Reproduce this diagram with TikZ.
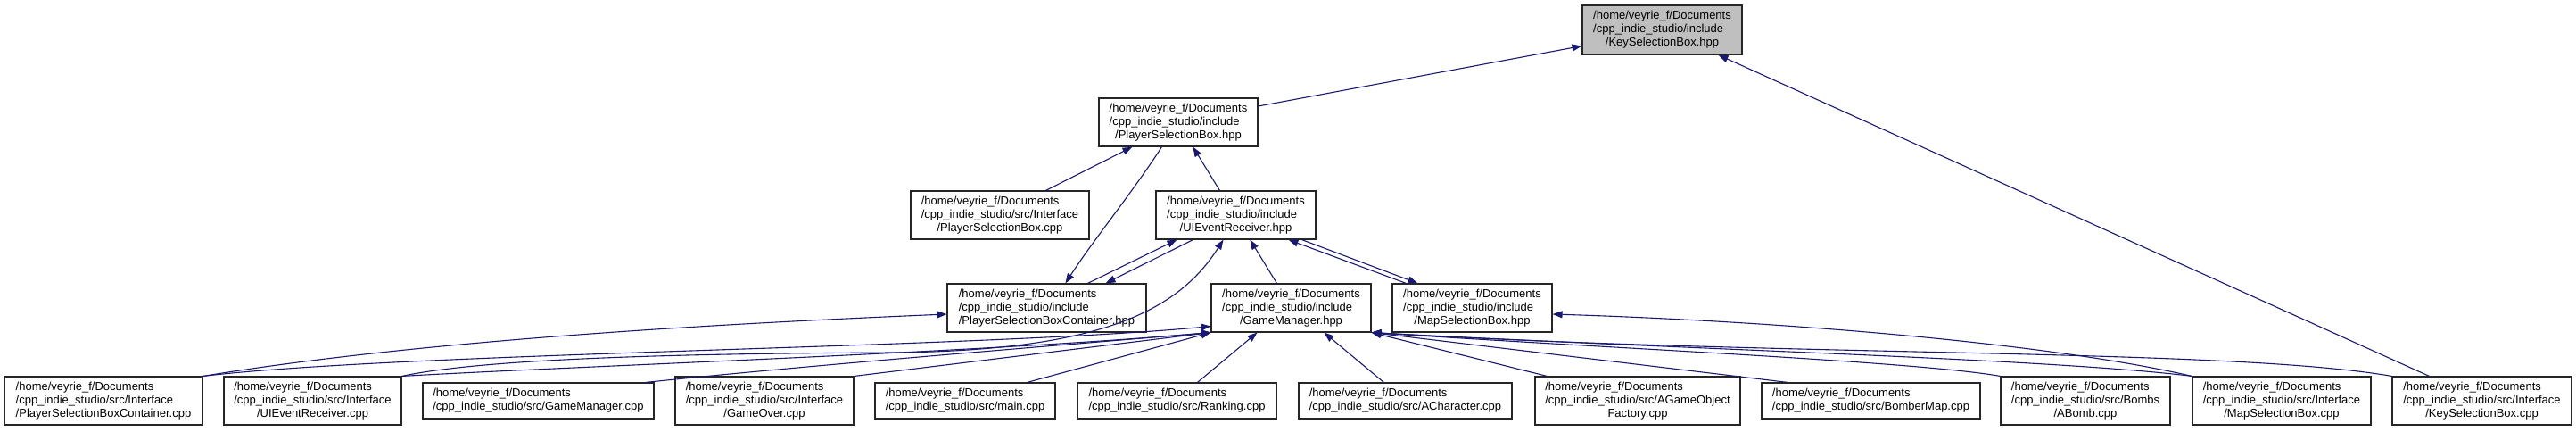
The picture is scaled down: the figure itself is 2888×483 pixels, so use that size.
\documentclass[tikz,border=0pt]{standalone}
\usepackage{fontspec}
\setmainfont{Liberation Sans}
\usetikzlibrary{arrows.meta,calc}
\definecolor{edgeblue}{HTML}{191970}
\definecolor{rootgray}{HTML}{BFBFBF}
\newcommand{\dxthree}[3]{\begin{tabular}{@{}l@{}}#1\\#2\\\multicolumn{1}{@{}c@{}}{#3}\end{tabular}}
\newcommand{\dxtwo}[2]{\begin{tabular}{@{}l@{}}#1\\#2\end{tabular}}
\newcommand{\hv}{/home/veyrie\_f/Documents}
\newcommand{\inc}{/cpp\_indie\_studio/include}
\newcommand{\srci}{/cpp\_indie\_studio/src/Interface}
\newcommand{\srcd}{/cpp\_indie\_studio/src/}
\begin{document}
\begin{tikzpicture}[x=1pt,y=-1pt,
  box/.style={draw=black!85, line width=1.1pt, fill=white, inner sep=0pt,
    font=\fontsize{13}{15}\selectfont},
  three/.style={box, minimum height=54pt},
  two/.style={box, minimum height=40pt},
  dep/.style={draw=edgeblue, line width=1.1pt, -{Triangle[length=11pt,width=8pt]}}]
\useasboundingbox (0,0) rectangle (2888,483);
\fill[white] (0,0) rectangle (2888,483);

% nodes
\node[three, fill=rootgray, minimum width=179pt, minimum height=55pt] (ksbh) at (1863.5,33.5) {\dxthree{\hv}{\inc}{/KeySelectionBox.hpp}};
\node[three, minimum width=178pt] (psbh) at (1321,137) {\dxthree{\hv}{\inc}{/PlayerSelectionBox.hpp}};
\node[three, minimum width=200pt] (psbcpp) at (1121,241) {\dxthree{\hv}{\srci}{/PlayerSelectionBox.cpp}};
\node[three, minimum width=179pt] (uierh) at (1385.5,241) {\dxthree{\hv}{\inc}{/UIEventReceiver.hpp}};
\node[three, minimum width=223pt] (psbch) at (1173.5,345) {\dxthree{\hv}{\inc}{/PlayerSelectionBoxContainer.hpp}};
\node[three, minimum width=179pt] (gmh) at (1447.5,345) {\dxthree{\hv}{\inc}{/GameManager.hpp}};
\node[three, minimum width=179pt] (msbh) at (1650.5,345) {\dxthree{\hv}{\inc}{/MapSelectionBox.hpp}};

\node[three, minimum width=222pt] (psbccpp) at (116,449) {\dxthree{\hv}{\srci}{/PlayerSelectionBoxContainer.cpp}};
\node[three, minimum width=199pt] (uiercpp) at (350.5,449) {\dxthree{\hv}{\srci}{/UIEventReceiver.cpp}};
\node[two, minimum width=259pt] (gmcpp) at (603.5,449) {\dxtwo{\hv}{\srcd GameManager.cpp}};
\node[three, minimum width=200pt] (gocpp) at (857,449) {\dxthree{\hv}{\srci}{/GameOver.cpp}};
\node[two, minimum width=202pt] (maincpp) at (1082,449) {\dxtwo{\hv}{\srcd main.cpp}};
\node[two, minimum width=223pt] (rankcpp) at (1319.5,449) {\dxtwo{\hv}{\srcd Ranking.cpp}};
\node[two, minimum width=239pt] (acharcpp) at (1575.5,449) {\dxtwo{\hv}{\srcd ACharacter.cpp}};
\node[three, minimum width=230pt] (agofcpp) at (1836,449) {\dxthree{\hv}{\srcd AGameObject}{Factory.cpp}};
\node[two, minimum width=245pt] (bmcpp) at (2097.5,449) {\dxtwo{\hv}{\srcd BomberMap.cpp}};
\node[three, minimum width=190pt] (abombcpp) at (2338,449) {\dxthree{\hv}{\srcd Bombs}{/ABomb.cpp}};
\node[three, minimum width=200pt] (msbcpp) at (2558,449) {\dxthree{\hv}{\srci}{/MapSelectionBox.cpp}};
\node[three, minimum width=201pt] (ksbcpp) at (2782.5,449) {\dxthree{\hv}{\srci}{/KeySelectionBox.cpp}};

% edges (tip at the included file)
\draw[dep] ([yshift=18pt]psbh.east) -- ([yshift=-18pt]ksbh.west);
\draw[dep] ([xshift=42pt]ksbcpp.north west) -- ([xshift=153pt]ksbh.south west);
\draw[dep] ([xshift=152pt]psbcpp.north west) -- ([xshift=38pt]psbh.south west);
\draw[dep] ([xshift=71pt]psbh.south west) .. controls (1270,215) and (1225,270) .. ([xshift=133pt]psbch.north west);
\draw[dep] ([xshift=72pt]uierh.north west) -- ([xshift=106pt]psbh.south west);
\draw[dep] ([xshift=158pt]psbch.north west) -- ([xshift=24pt]uierh.south west);
\draw[dep] ([xshift=42pt]uierh.south west) -- ([xshift=178pt]psbch.north west);
\draw[dep] ([xshift=74pt]gmh.north west) -- ([xshift=106pt]uierh.south west);
\draw[dep] ([xshift=16pt]msbh.north west) -- ([xshift=149pt]uierh.south west);
\draw[dep] ([xshift=164pt]uierh.south west) -- ([xshift=29pt]msbh.north west);

% left side long edges
\draw[dep] (psbccpp.north east) .. controls (450,385) and (750,365) .. ([yshift=-7pt]psbch.west);
\draw[dep] (psbccpp.north east) .. controls (450,395) and (1100,390) .. ([yshift=7pt]gmh.south west);
\draw[dep] (uiercpp.north east) .. controls (550,400) and (800,396) .. (1000,395) .. controls (1230,393) and (1320,350) .. ([xshift=76pt]uierh.south west);
\draw[dep] (uiercpp.north east) .. controls (650,410) and (1100,395) .. (gmh.south west);
\draw[dep] ([xshift=-10pt]gmcpp.north east) .. controls (900,410) and (1150,390) .. (gmh.south west);
\draw[dep] (gocpp.north east) -- (gmh.south west);
\draw[dep] ([xshift=171pt]maincpp.north west) -- (gmh.south west);
\draw[dep] ([xshift=135pt]rankcpp.north west) -- ([xshift=52pt]gmh.south west);
\draw[dep] ([xshift=96pt]acharcpp.north west) -- ([xshift=127pt]gmh.south west);

% right side edges
\draw[dep] ([xshift=14pt]agofcpp.north west) -- (gmh.south east);
\draw[dep] ([xshift=30pt]bmcpp.north west) -- (gmh.south east);
\draw[dep] (abombcpp.north west) .. controls (2150,405) and (1800,390) .. (gmh.south east);
\draw[dep] (msbcpp.north west) .. controls (2300,402) and (1900,392) .. (gmh.south east);
\draw[dep] (ksbcpp.north west) .. controls (2500,390) and (2000,400) .. (gmh.south east);
\draw[dep] (msbcpp.north west) .. controls (2300,385) and (2000,360) .. ([yshift=-7pt]msbh.east);
\end{tikzpicture}
\end{document}
